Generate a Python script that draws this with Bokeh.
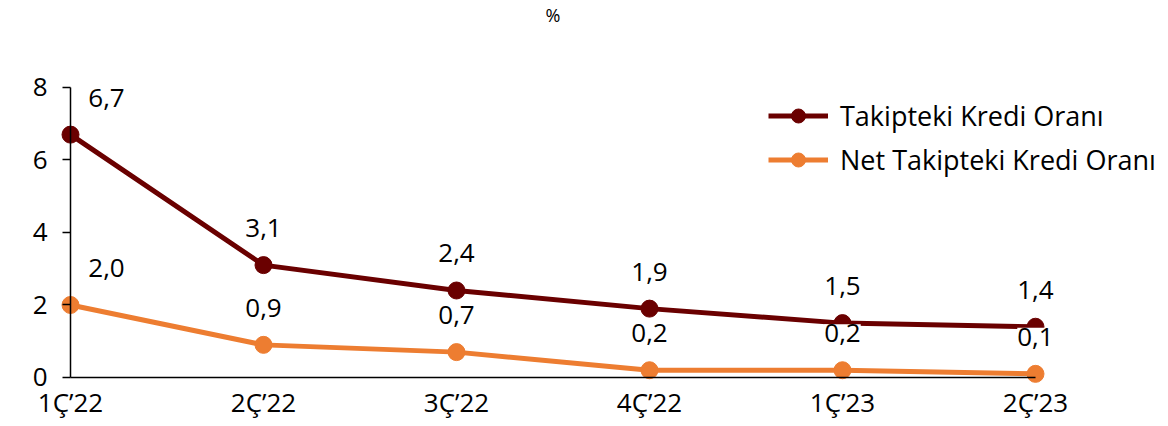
from bokeh.plotting import figure
from bokeh.models import Range1d, FixedTicker, ColumnDataSource, LabelSet, Legend, LegendItem, Label
from bokeh.core.properties import value
from bokeh.embed import file_html
from bokeh.resources import INLINE

categories = ["1Ç’22", "2Ç’22", "3Ç’22", "4Ç’22", "1Ç’23", "2Ç’23"]
npl_ratio = [6.7, 3.1, 2.4, 1.9, 1.5, 1.4]
net_npl_ratio = [2.0, 0.9, 0.7, 0.2, 0.2, 0.1]
y_ticks = [0, 2, 4, 6, 8]
series_names = ["Takipteki Kredi Oranı", "Net Takipteki Kredi Oranı"]
unit_title = "%"

DARK = "#6A0000"
ORANGE = "#ED7D31"
FONT = "Open Sans"

xs = list(range(len(categories)))

p = figure(width=1160, height=424,
           x_range=Range1d(-0.3109, 5.6477), y_range=Range1d(-1.2966, 10.4),
           output_backend="svg", toolbar_location=None,
           min_border_left=10, min_border_right=0, min_border_top=0, min_border_bottom=0)
p.outline_line_color = None
p.xgrid.visible = False
p.ygrid.visible = False
p.background_fill_color = "white"

# axes
p.xaxis.fixed_location = 0
p.yaxis.fixed_location = 0
p.xaxis.bounds = (0, len(categories) - 1)
p.yaxis.bounds = (y_ticks[0], y_ticks[-1])
p.xaxis.ticker = FixedTicker(ticks=xs)
p.xaxis.major_label_overrides = {i: c for i, c in enumerate(categories)}
p.yaxis.ticker = FixedTicker(ticks=y_ticks)
for ax in (p.xaxis, p.yaxis):
    ax.axis_line_color = "black"
    ax.axis_line_width = 1.5
    ax.minor_tick_line_color = None
    ax.major_tick_in = 0
    ax.major_label_text_font = FONT
    ax.major_label_text_font_size = "26px"
    ax.major_label_text_color = "black"
p.xaxis.major_tick_out = 0
p.xaxis.major_label_standoff = 7
p.yaxis.major_tick_out = 8
p.yaxis.major_tick_line_color = "black"
p.yaxis.major_tick_line_width = 1.5
p.yaxis.major_label_standoff = 15

# series
l1 = p.line(xs, npl_ratio, line_color=DARK, line_width=5)
s1 = p.scatter(xs, npl_ratio, size=17, fill_color=DARK, line_color=DARK)
l2 = p.line(xs, net_npl_ratio, line_color=ORANGE, line_width=5)
s2 = p.scatter(xs, net_npl_ratio, size=17, fill_color=ORANGE, line_color=ORANGE)

# data labels
def fmt(v):
    return f"{v:.1f}".replace(".", ",")

for vals in (npl_ratio, net_npl_ratio):
    src = ColumnDataSource(dict(x=xs, y=vals, text=[fmt(v) for v in vals],
                                xo=[36 if i == 0 else 0 for i in xs]))
    p.add_layout(LabelSet(x="x", y="y", text="text", source=src, x_offset="xo", y_offset=37,
                          text_align="center", text_baseline="middle",
                          text_font=value(FONT), text_font_size=value("26px"), text_color="black",
                          background_fill_color="white"))

legend = Legend(items=[LegendItem(label=series_names[0], renderers=[l1, s1]),
                       LegendItem(label=series_names[1], renderers=[l2, s2])],
                location=(758, 246), orientation="vertical",
                glyph_width=60, glyph_height=35, label_height=35, spacing=7,
                label_standoff=12, padding=0, margin=0,
                border_line_color=None, background_fill_alpha=0,
                label_text_font=FONT, label_text_font_size="27px", label_text_color="black")
p.add_layout(legend)

p.add_layout(Label(x=2.5, y=10.0, text=unit_title, text_align="center", text_baseline="middle",
                   text_font=FONT, text_font_size="18px", text_color="black"))

open("out.html", "w").write(file_html(p, INLINE))
